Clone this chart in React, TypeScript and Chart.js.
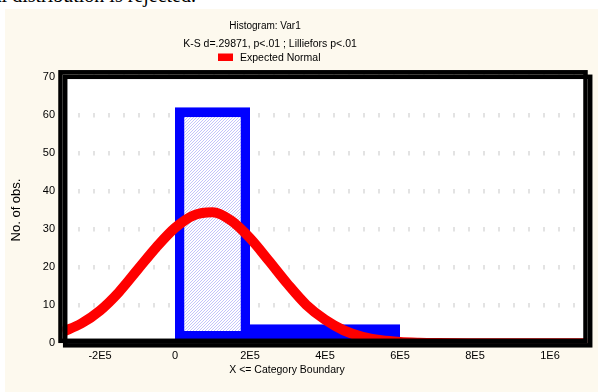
import React, { useEffect, useRef } from 'react';
import { Chart, registerables } from 'chart.js';

Chart.register(...registerables);

// ---- data ----
const binCenters = [100000, 300000, 500000];
const binCounts = [62, 5, 5];

const normalX = [
  -300000, -250000, -200000, -150000, -100000, -50000, 0, 50000, 100000, 150000,
  200000, 250000, 300000, 350000, 400000, 450000, 500000, 550000, 600000, 650000,
  700000, 800000, 900000, 1000000, 1100000,
];
const normalY = [
  3.0, 5.2, 8.6, 13.4, 19.3, 25.2, 30.3, 33.6, 34.4, 32.2,
  27.6, 21.7, 15.6, 10.1, 6.2, 3.4, 1.7, 0.8, 0.35, 0.15,
  0.06, 0.01, 0, 0, 0,
];

const xTickValues = [-200000, 0, 200000, 400000, 600000, 800000, 1000000];
const xTickLabels = ['-2E5', '0', '2E5', '4E5', '6E5', '8E5', '1E6'];
const yTickValues = [0, 10, 20, 30, 40, 50, 60, 70];

const chartTitle = 'Histogram: Var1';
const chartSubtitle = 'K-S d=.29871, p<.01 ; Lilliefors p<.01';
const legendLabel = 'Expected Normal';
const xAxisTitle = 'X <= Category Boundary';
const yAxisTitle = 'No. of obs.';
const topText = 'the hypothesis of a normal distribution is rejected.';

const FONT = '"Liberation Sans", Arial, sans-serif';

function makeHatch(): CanvasPattern | string {
  const c = document.createElement('canvas');
  c.width = 3;
  c.height = 3;
  const g = c.getContext('2d');
  if (!g) return '#e0e0fc';
  g.fillStyle = '#ffffff';
  g.fillRect(0, 0, 3, 3);
  g.fillStyle = '#c4c4fa';
  for (let i = 0; i < 3; i++) g.fillRect(i, 2 - i, 1, 1);
  const p = g.createPattern(c, 'repeat');
  return p || '#e0e0fc';
}

const decorPlugin = {
  id: 'decor',
  beforeDraw(chart: any) {
    const { ctx, chartArea: a } = chart;
    ctx.save();
    ctx.fillStyle = '#ffffff';
    ctx.fillRect(a.left, a.top, a.right - a.left, a.bottom - a.top);
    ctx.restore();
  },
  afterDatasetsDraw(chart: any) {
    const { ctx, chartArea: a } = chart;
    ctx.save();
    ctx.strokeStyle = '#000000';
    ctx.lineWidth = 4.5;
    const x = a.left - 2;
    const y = a.top - 4.4;
    const w = a.right - a.left;
    const h = a.bottom - a.top + 1.9;
    ctx.strokeRect(x + 4.7, y + 4.5, w, h);
    ctx.strokeRect(x, y, w, h);
    ctx.restore();
  },
  afterDraw(chart: any) {
    const { ctx } = chart;
    ctx.save();
    ctx.fillStyle = '#000000';
    ctx.textBaseline = 'alphabetic';
    ctx.textAlign = 'center';
    ctx.font = `10px ${FONT}`;
    ctx.fillText(chartTitle, 260, 20.3);
    ctx.font = `10.5px ${FONT}`;
    ctx.fillText(chartSubtitle, 265, 37.7);
    // legend
    ctx.fillStyle = '#ff0000';
    ctx.fillRect(213, 44.5, 15, 7.5);
    ctx.fillStyle = '#000000';
    ctx.textAlign = 'left';
    ctx.fillText(legendLabel, 235, 52);
    // x axis title
    ctx.textAlign = 'center';
    ctx.fillText(xAxisTitle, 282, 363.5);
    ctx.restore();
  },
};

export default function App() {
  const ref = useRef<HTMLCanvasElement>(null);

  useEffect(() => {
    if (!ref.current) return;
    const hatch = makeHatch();
    const chart = new Chart(ref.current, {
      type: 'bar',
      data: {
        datasets: [
          {
            type: 'line',
            label: legendLabel,
            data: normalX.map((x, i) => ({ x, y: normalY[i] })),
            borderColor: '#ff0000',
            borderWidth: 10,
            pointRadius: 0,
            fill: false,
            cubicInterpolationMode: 'monotone',
            clip: 0,
            order: 0,
          } as any,
          {
            type: 'bar',
            label: 'Var1',
            data: binCenters.map((x, i) => ({ x, y: binCounts[i] })),
            backgroundColor: hatch as any,
            borderColor: '#0000ff',
            borderWidth: { top: 10, bottom: 10, left: 9.5, right: 9.5 },
            borderSkipped: false,
            inflateAmount: 0,
            categoryPercentage: 1,
            barPercentage: 1,
            order: 1,
          } as any,
        ],
      },
      options: {
        animation: false,
        responsive: false,
        devicePixelRatio: 1,
        events: [],
        layout: { padding: { left: 0, right: 10.5, top: 67.7, bottom: 0 } },
        plugins: {
          legend: { display: false },
          title: { display: false },
          tooltip: { enabled: false },
        },
        scales: {
          x: {
            type: 'linear',
            min: -300000,
            max: 1100000,
            offset: false,
            grid: { display: false, drawTicks: false, offset: false },
            border: { display: false },
            afterBuildTicks: (s: any) => {
              s.ticks = xTickValues.map((v) => ({ value: v }));
            },
            afterFit: (s: any) => {
              s.height = 48.7;
            },
            ticks: {
              padding: 6.5,
              maxRotation: 0,
              autoSkip: false,
              color: '#000000',
              font: { family: FONT, size: 11 },
              callback: (_v: any, i: number) => xTickLabels[i],
            },
          },
          y: {
            type: 'linear',
            min: 0,
            max: 70,
            grid: {
              color: '#c8c8c8',
              lineWidth: 4.5,
              drawTicks: false,
            },
            border: { display: false, dash: [1, 14], dashOffset: -0.5 },
            afterBuildTicks: (s: any) => {
              s.ticks = yTickValues.map((v) => ({ value: v }));
            },
            afterFit: (s: any) => {
              s.width = 57.5;
            },
            ticks: {
              padding: 7.5,
              color: '#000000',
              font: { family: FONT, size: 11 },
            },
            title: {
              display: true,
              text: yAxisTitle,
              color: '#000000',
              font: { family: FONT, size: 13 },
              padding: { top: 4, bottom: 0 },
            },
          },
        },
      },
      plugins: [decorPlugin],
    });
    return () => chart.destroy();
  }, []);

  return (
    <div
      style={{
        position: 'fixed',
        left: 0,
        top: 0,
        width: 598,
        height: 392,
        background: '#ffffff',
        overflow: 'hidden',
      }}
    >
      <div
        style={{
          position: 'absolute',
          left: 0,
          top: 0,
          width: 196,
          height: 9,
          overflow: 'hidden',
          display: 'flex',
          justifyContent: 'flex-end',
        }}
      >
        <span
          style={{
            position: 'relative',
            top: -15,
            whiteSpace: 'nowrap',
            fontFamily: '"Liberation Serif", "Times New Roman", serif',
            fontSize: 20,
            lineHeight: '20px',
            color: '#000000',
            flexShrink: 0,
          }}
        >
          {topText}
        </span>
      </div>
      <div
        style={{
          position: 'absolute',
          left: 5,
          top: 9,
          width: 593,
          height: 383,
          background: '#fdf9ee',
        }}
      >
        <canvas ref={ref} width={593} height={383} style={{ display: 'block' }} />
      </div>
    </div>
  );
}
